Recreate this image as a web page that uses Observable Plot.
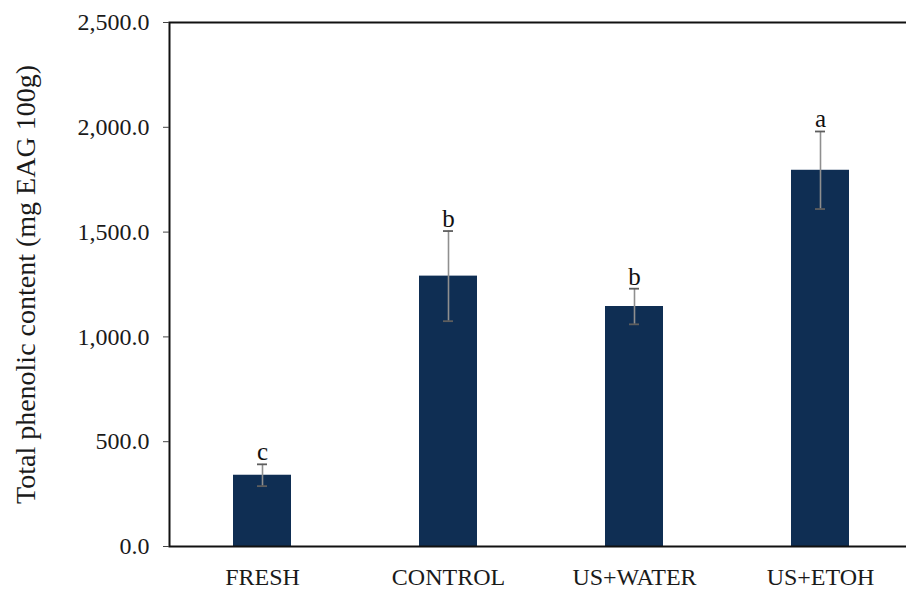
<!DOCTYPE html>
<html>
<head>
<meta charset="utf-8">
<script src="https://cdn.jsdelivr.net/npm/d3@7"></script>
<script src="https://cdn.jsdelivr.net/npm/@observablehq/plot@0.6"></script>
<style>
  html, body { margin: 0; padding: 0; background: #fff; }
  #chart { width: 906px; height: 589px; }
  #chart svg text { font-family: 'Liberation Serif', serif; }
</style>
</head>
<body>
<div id="chart"></div>
<script>
// Total phenolic content per treatment (mean ± deviation, significance letters)
const groups = ["FRESH", "CONTROL", "US+WATER", "US+ETOH"];
const means = [340, 1290, 1145, 1795];
const errors = [52, 215, 85, 185];
const letters = ["c", "b", "b", "a"];
const yTicks = [0, 500, 1000, 1500, 2000, 2500];
const yTitle = "Total phenolic content (mg EAG 100g)";

const rows = groups.map((g, i) => ({
  group: g,
  mean: means[i],
  lo: means[i] - errors[i],
  hi: means[i] + errors[i],
  letter: letters[i]
}));

const serif = "'Liberation Serif', serif";

const chart = Plot.plot({
  width: 906,
  height: 589,
  marginLeft: 169,
  marginRight: -3,
  marginTop: 22,
  marginBottom: 43,
  style: { fontFamily: serif, color: "#1a1a1a", background: "#fff" },
  x: { domain: groups, range: [169, 913], paddingInner: 0.688, paddingOuter: 0.344, label: null },
  y: { domain: [0, 2500], label: null },
  marks: [
    Plot.barY(rows, { x: "group", y: "mean", fill: "#0f2e53" }),
    Plot.ruleX(rows, { x: "group", y1: "lo", y2: "hi", stroke: "#8f8f8f", strokeWidth: 1.6 }),
    Plot.tickY(rows, { x: "group", y: "hi", stroke: "#5e5e5e", strokeWidth: 1.8, insetLeft: 24, insetRight: 24 }),
    Plot.tickY(rows, { x: "group", y: "lo", stroke: "#5e5e5e", strokeWidth: 1.8, insetLeft: 24, insetRight: 24 }),
    Plot.text(rows, { x: "group", y: "hi", text: "letter", lineAnchor: "bottom", dy: -4, fontSize: 25, fontFamily: serif, fill: "#111" }),
    Plot.frame({ stroke: "#111", strokeWidth: 2 }),
    Plot.axisY({ ticks: yTicks, tickSize: 6, tickPadding: 14, tickFormat: d3.format(",.1f"), fontSize: 24, fontFamily: serif, stroke: "#444", label: null }),
    Plot.axisX({ tickSize: 0, tickPadding: 21, fontSize: 24, fontFamily: serif, label: null }),
    Plot.text([yTitle], { frameAnchor: "left", textAnchor: "middle", rotate: -90, dx: -143, fontSize: 28, fontFamily: serif, fill: "#1a1a1a", style: "letter-spacing:0.4px" })
  ]
});

document.getElementById("chart").appendChild(chart);
</script>
</body>
</html>
